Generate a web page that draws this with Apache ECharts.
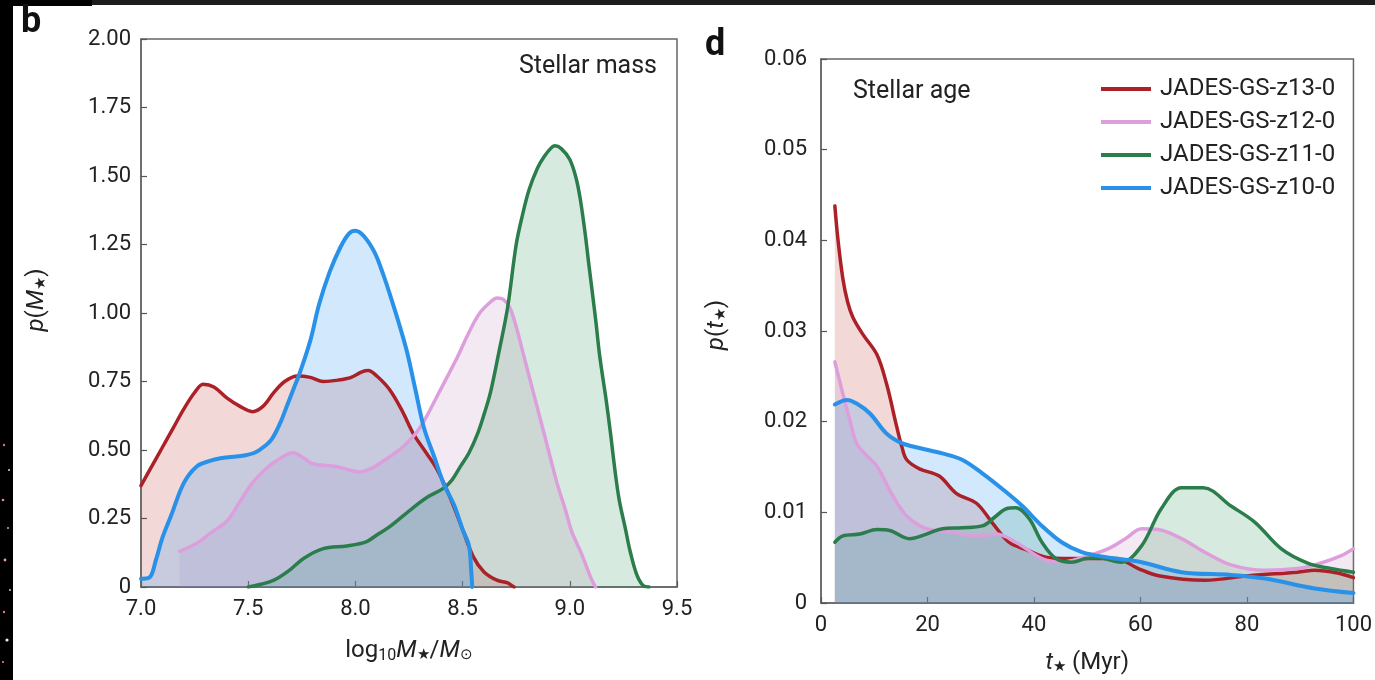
<!DOCTYPE html>
<html>
<head>
<meta charset="utf-8">
<script src="https://cdn.jsdelivr.net/npm/echarts@6/dist/echarts.min.js"></script>
<style>
html,body{margin:0;padding:0;background:#fff;}
#chart{width:1375px;height:680px;}
</style>
</head>
<body>
<div id="chart"></div>
<script>
// ---- Data ----
const seriesNames = ['JADES-GS-z13-0', 'JADES-GS-z12-0', 'JADES-GS-z11-0', 'JADES-GS-z10-0'];

// Panel b: stellar mass PDFs  [log10 M*/Msun, p(M*)]
const massZ13 = [[7.0,0.37],[7.05,0.44],[7.1,0.51],[7.15,0.58],[7.2,0.65],[7.25,0.71],[7.29,0.74],[7.34,0.73],[7.4,0.69],[7.46,0.66],[7.52,0.64],[7.57,0.66],[7.62,0.71],[7.67,0.75],[7.73,0.77],[7.79,0.765],[7.85,0.75],[7.92,0.755],[7.98,0.765],[8.03,0.785],[8.06,0.79],[8.1,0.77],[8.16,0.72],[8.22,0.64],[8.27,0.56],[8.33,0.49],[8.38,0.43],[8.44,0.33],[8.5,0.21],[8.55,0.11],[8.6,0.055],[8.66,0.025],[8.71,0.015],[8.73,0.005],[8.74,0]];
const massZ12 = [[7.18,0.13],[7.26,0.16],[7.33,0.2],[7.4,0.24],[7.46,0.31],[7.52,0.38],[7.58,0.43],[7.63,0.46],[7.71,0.49],[7.76,0.47],[7.8,0.45],[7.91,0.44],[8.02,0.42],[8.08,0.435],[8.13,0.46],[8.22,0.51],[8.3,0.58],[8.39,0.71],[8.47,0.83],[8.53,0.93],[8.58,1.0],[8.63,1.04],[8.66,1.055],[8.69,1.05],[8.72,1.02],[8.75,0.95],[8.78,0.86],[8.82,0.74],[8.86,0.62],[8.9,0.5],[8.94,0.38],[8.98,0.28],[9.01,0.2],[9.05,0.13],[9.08,0.07],[9.1,0.03],[9.12,0]];
const massZ11 = [[7.5,0.0],[7.56,0.01],[7.62,0.025],[7.69,0.06],[7.76,0.105],[7.85,0.14],[7.96,0.15],[8.05,0.165],[8.1,0.19],[8.16,0.22],[8.27,0.29],[8.34,0.33],[8.41,0.36],[8.45,0.39],[8.49,0.44],[8.53,0.49],[8.57,0.56],[8.6,0.63],[8.63,0.71],[8.67,0.86],[8.71,1.02],[8.75,1.25],[8.78,1.36],[8.81,1.45],[8.85,1.53],[8.88,1.57],[8.91,1.6],[8.93,1.61],[8.96,1.6],[9.0,1.56],[9.03,1.49],[9.05,1.41],[9.07,1.3],[9.09,1.17],[9.12,0.98],[9.14,0.84],[9.17,0.68],[9.19,0.56],[9.21,0.43],[9.23,0.32],[9.26,0.21],[9.28,0.135],[9.31,0.05],[9.34,0.007],[9.37,0]];
const massZ10 = [[7.0,0.03],[7.04,0.035],[7.07,0.1],[7.1,0.18],[7.14,0.26],[7.2,0.38],[7.26,0.44],[7.32,0.46],[7.37,0.47],[7.43,0.475],[7.48,0.48],[7.53,0.49],[7.57,0.51],[7.61,0.54],[7.65,0.6],[7.68,0.66],[7.71,0.72],[7.74,0.78],[7.79,0.9],[7.83,1.03],[7.88,1.15],[7.93,1.24],[7.97,1.29],[8.0,1.3],[8.04,1.28],[8.09,1.22],[8.13,1.14],[8.16,1.07],[8.2,0.97],[8.24,0.86],[8.28,0.72],[8.32,0.58],[8.37,0.47],[8.41,0.38],[8.46,0.3],[8.5,0.21],[8.53,0.15],[8.54,0.06],[8.545,0]];

// Panel d: stellar age PDFs  [t* (Myr), p(t*)]
const ageZ13 = [[2.6,0.0438],[3.2,0.040],[4.1,0.0358],[5,0.0332],[6,0.0315],[7.9,0.0296],[10.5,0.0274],[12.3,0.0242],[14.2,0.0195],[15.2,0.0172],[16.1,0.0158],[18.5,0.0148],[22.2,0.014],[25.4,0.0121],[29.2,0.011],[32.1,0.0089],[35.3,0.0067],[38.5,0.0059],[42.8,0.005],[49,0.0049],[55.3,0.0049],[59.6,0.0038],[63.4,0.003],[72.1,0.0025],[80.2,0.003],[89.5,0.0034],[92.7,0.0036],[97,0.0033],[100,0.0028]];
const ageZ12 = [[2.6,0.0266],[4.1,0.0231],[5.5,0.020],[6.7,0.0176],[8.5,0.0163],[10.5,0.0151],[13.5,0.0118],[16.1,0.0096],[19.8,0.0082],[24.7,0.0078],[29.2,0.0074],[32.9,0.0076],[36.6,0.0067],[41.5,0.0049],[45.2,0.0045],[49,0.005],[54,0.006],[57.2,0.0071],[60.2,0.0082],[63.4,0.0081],[67.7,0.0071],[72.1,0.0056],[77,0.0042],[83.4,0.0036],[89.5,0.0038],[92.7,0.0042],[97.6,0.0052],[100,0.006]];
const ageZ11 = [[2.6,0.0067],[4.1,0.0074],[7.3,0.0076],[10.5,0.0081],[12.9,0.008],[16.6,0.0071],[19.8,0.0076],[22.8,0.0082],[26.5,0.0083],[30.3,0.0085],[32.9,0.0096],[34.8,0.0104],[36.6,0.0105],[39.1,0.0093],[41.5,0.0067],[44.1,0.0049],[47.1,0.0045],[49.7,0.0049],[52,0.005],[56.4,0.0045],[60.2,0.0063],[63.9,0.0104],[67.7,0.0127],[71.8,0.0127],[77,0.0107],[81.5,0.0089],[86.4,0.006],[91.4,0.0044],[95.7,0.0038],[100,0.0034]];
const ageZ10 = [[2.6,0.0219],[4.9,0.0224],[6.7,0.022],[9.2,0.0209],[12.3,0.0187],[15.3,0.0176],[18.5,0.0171],[22.8,0.0165],[26.5,0.0158],[30.3,0.0143],[34,0.0126],[37.8,0.0107],[41.5,0.0085],[45.2,0.0067],[49,0.0056],[52.1,0.0052],[55.3,0.0049],[60.2,0.0045],[67.7,0.0034],[77,0.0031],[83.4,0.0027],[92.7,0.0016],[100,0.0011]];

// Axis ticks
const massTicks = {min: 7.0, max: 9.5, interval: 0.5};
const massPTicks = {min: 0, max: 2.0, interval: 0.25};
const ageTicks = {min: 0, max: 100, interval: 20};
const agePTicks = {min: 0, max: 0.06, interval: 0.01};

// ---- Styles ----
const FONT = 'Roboto';
const lineColors = ['#ab2127', '#dc9fdc', '#2b7d4c', '#2a91e8'];
const fillColors = ['rgba(190,60,55,0.28)', 'rgba(200,150,200,0.30)', 'rgba(50,150,90,0.28)', 'rgba(55,155,245,0.32)'];
const lineWidths = [3.5, 3.5, 3.5, 4];

const chart = echarts.init(document.getElementById('chart'), null, {renderer: 'canvas'});

// translucent fill layer (below all lines)
function fillSeries(name, idx, data, axisIdx) {
  return {
    name: name, type: 'line', data: data,
    xAxisIndex: axisIdx, yAxisIndex: axisIdx,
    showSymbol: false, symbol: 'none', smooth: 0.35,
    lineStyle: {width: 0, opacity: 0},
    itemStyle: {color: lineColors[idx]},
    areaStyle: {color: fillColors[idx], origin: 'start'},
    emphasis: {disabled: true}, silent: true,
    z: 1
  };
}
// outline layer (above all fills)
function lineSeries(name, idx, data, axisIdx) {
  return {
    name: name, type: 'line', data: data,
    xAxisIndex: axisIdx, yAxisIndex: axisIdx,
    showSymbol: false, symbol: 'none', smooth: 0.35,
    lineStyle: {color: lineColors[idx], width: lineWidths[idx], join: 'round', cap: 'round'},
    itemStyle: {color: lineColors[idx]},
    emphasis: {disabled: true},
    z: 3 + idx
  };
}

const axisCommon = {
  axisLine: {show: true, lineStyle: {color: '#666', width: 1.5}},
  axisTick: {show: true, inside: true, length: 6, lineStyle: {color: '#555', width: 1.2}},
  splitLine: {show: false},
  axisLabel: {color: '#222', fontSize: 22, fontFamily: FONT}
};

const richBase = {
  i: {fontStyle: 'italic', fontSize: 24, fontFamily: FONT, color: '#222'},
  s: {fontSize: 15, fontFamily: FONT, color: '#222', padding: [9,0,0,0]},
  s2: {fontSize: 16, fontFamily: FONT, color: '#222', padding: [11,0,0,0]}
};
function nameStyle(pad) {
  return {color: '#222', fontSize: 24, fontFamily: FONT, padding: pad || 0, rich: richBase};
}

const allSeries = [];
const massSets = [massZ13, massZ12, massZ11, massZ10];
const ageSets = [ageZ13, ageZ12, ageZ11, ageZ10];
massSets.forEach((d, i) => allSeries.push(fillSeries(seriesNames[i], i, d, 0)));
ageSets.forEach((d, i) => allSeries.push(fillSeries(seriesNames[i], i, d, 1)));
massSets.forEach((d, i) => allSeries.push(lineSeries(seriesNames[i], i, d, 0)));
ageSets.forEach((d, i) => allSeries.push(lineSeries(seriesNames[i], i, d, 1)));

// faint background stars at the cropped left edge
const stars = [[4,445,1.2,'#c77'],[9,470,1,'#ddd'],[3,500,1.3,'#e88'],[8,528,1,'#bbb'],[5,560,1.4,'#f99'],[10,590,1,'#ccc'],[4,612,1.2,'#e77'],[7,640,1.6,'#eee'],[3,662,1.1,'#d88']];

const option = {
  backgroundColor: '#ffffff',
  animation: false,
  textStyle: {fontFamily: FONT},
  grid: [
    {left: 141, top: 39, width: 536, height: 548, show: true, borderColor: '#666', borderWidth: 1.5, containLabel: false},
    {left: 821, top: 59, width: 535, height: 549, show: true, borderColor: '#666', borderWidth: 1.5, containLabel: false}
  ],
  legend: {
    data: seriesNames,
    orient: 'vertical',
    left: 1096, top: 72,
    icon: 'rect', itemWidth: 50, itemHeight: 4, itemGap: 9,
    textStyle: {color: '#222', fontSize: 24, fontFamily: FONT, padding: [0,0,0,4]},
    selectedMode: false
  },
  xAxis: [
    Object.assign({}, axisCommon, {
      type: 'value', gridIndex: 0, min: massTicks.min, max: massTicks.max, interval: massTicks.interval,
      axisLabel: Object.assign({}, axisCommon.axisLabel, {margin: 11, formatter: v => v.toFixed(1)}),
      name: 'log{s2|10}{i|M}{s|★}/{i|M}{s|⊙}', nameLocation: 'middle', nameGap: 50,
      nameTextStyle: nameStyle()
    }),
    Object.assign({}, axisCommon, {
      type: 'value', gridIndex: 1, min: ageTicks.min, max: ageTicks.max, interval: ageTicks.interval,
      axisLabel: Object.assign({}, axisCommon.axisLabel, {margin: 11}),
      name: '{i|t}{s|★} (Myr)', nameLocation: 'middle', nameGap: 48,
      nameTextStyle: nameStyle()
    })
  ],
  yAxis: [
    Object.assign({}, axisCommon, {
      type: 'value', gridIndex: 0, min: massPTicks.min, max: massPTicks.max, interval: massPTicks.interval,
      axisLabel: Object.assign({}, axisCommon.axisLabel, {margin: 10, formatter: v => v === 0 ? '0' : v.toFixed(2)}),
      name: '{i|p}({i|M}{s|★})', nameLocation: 'middle', nameGap: 92, nameRotate: 90,
      nameTextStyle: nameStyle([0, 0, 0, 26])
    }),
    Object.assign({}, axisCommon, {
      type: 'value', gridIndex: 1, min: agePTicks.min, max: agePTicks.max, interval: agePTicks.interval,
      axisLabel: Object.assign({}, axisCommon.axisLabel, {margin: 14, formatter: v => v === 0 ? '0' : v.toFixed(2)}),
      name: '{i|p}({i|t}{s|★})', nameLocation: 'middle', nameGap: 92, nameRotate: 90,
      nameTextStyle: nameStyle([0, 0, 0, 12])
    })
  ],
  series: allSeries,
  graphic: [
    {type: 'rect', left: 0, top: 0, shape: {width: 1375, height: 5}, style: {fill: '#1d1d1d'}, silent: true},
    {type: 'rect', left: 0, top: 0, shape: {width: 92, height: 6}, style: {fill: '#000'}, silent: true},
    {type: 'rect', left: 0, top: 0, shape: {width: 13, height: 680}, style: {fill: '#000'}, silent: true}
  ].concat(stars.map(s => ({type: 'circle', shape: {cx: s[0], cy: s[1], r: s[2]}, style: {fill: s[3]}, silent: true})))
   .concat([
    {type: 'text', left: 21, top: 5, style: {text: 'b', font: 'bold 36px ' + FONT, fill: '#111'}},
    {type: 'text', left: 705, top: 28, style: {text: 'd', font: 'bold 36px ' + FONT, fill: '#111'}},
    {type: 'text', right: 1375 - 657, top: 54, style: {text: 'Stellar mass', font: '25px ' + FONT, fill: '#222', align: 'right'}},
    {type: 'text', left: 853, top: 79, style: {text: 'Stellar age', font: '25px ' + FONT, fill: '#222'}}
  ])
};

chart.setOption(option);
</script>
</body>
</html>
